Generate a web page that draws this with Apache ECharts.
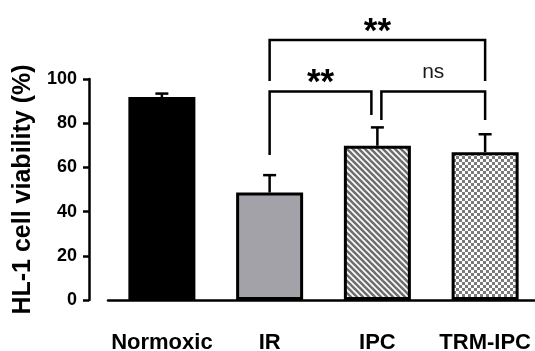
<!DOCTYPE html>
<html>
<head>
<meta charset="utf-8">
<script src="https://cdn.jsdelivr.net/npm/echarts@6/dist/echarts.min.js"></script>
<style>
  html, body { margin: 0; padding: 0; background: #fff; }
  #chart { width: 535px; height: 351px; }
</style>
</head>
<body>
<div id="chart"></div>
<script>
// groups and values (% viability, mean and SEM)
var groups = ['Normoxic', 'IR', 'IPC', 'TRM-IPC'];
var means = [91.8, 48.6, 69.8, 66.9];
var errors = [1.6, 7.9, 8.3, 8.1];
var yTicks = [0, 20, 40, 60, 80, 100];

// significance brackets (category index, heights in % units)
var bracketFrom = [1, 1, 2];
var bracketTo = [3, 2, 3];
var bracketTop = [117.6, 94.3, 94.3];
var bracketLeftEnd = [99.1, 65.6, 81.4];
var bracketRightEnd = [99.1, 83.7, 81.4];
var bracketText = ['**', '**', 'ns'];

var FONT = '"Liberation Sans", Arial, Helvetica, sans-serif';

function stripePattern() {
  var c = document.createElement('canvas');
  c.width = 6; c.height = 6;
  var ctx = c.getContext('2d');
  ctx.fillStyle = '#fff';
  ctx.fillRect(0, 0, 6, 6);
  ctx.strokeStyle = '#6e6e6e';
  ctx.lineWidth = 2.6;
  for (var k = -1; k <= 1; k++) {
    ctx.beginPath();
    ctx.moveTo(-2, -2 + k * 6);
    ctx.lineTo(8, 8 + k * 6);
    ctx.stroke();
  }
  return c;
}

function checkPattern() {
  var c = document.createElement('canvas');
  c.width = 6; c.height = 6;
  var ctx = c.getContext('2d');
  ctx.fillStyle = '#fff';
  ctx.fillRect(0, 0, 6, 6);
  ctx.fillStyle = '#7a7a7a';
  ctx.fillRect(0, 0, 3, 3);
  ctx.fillRect(3, 3, 3, 3);
  return c;
}

var fills = [
  '#000',
  '#a2a2a8',
  { image: stripePattern(), repeat: 'repeat' },
  { image: checkPattern(), repeat: 'repeat' }
];

var barData = means.map(function (v, i) {
  return { value: v, itemStyle: { color: fills[i] } };
});

var errData = means.map(function (v, i) { return [i, v, v + errors[i]]; });

var bracketData = bracketFrom.map(function (f, i) {
  return [f, bracketTo[i], bracketTop[i], bracketLeftEnd[i], bracketRightEnd[i], i];
});

var chart = echarts.init(document.getElementById('chart'));

var option = {
  animation: false,
  backgroundColor: '#fff',
  grid: { left: 108, right: -4, top: 79, bottom: 51, outerBoundsMode: 'none', containLabel: false },
  xAxis: {
    type: 'category',
    data: groups,
    offset: 19,
    axisLine: { lineStyle: { color: '#000', width: 2.5 } },
    axisTick: { show: false },
    axisLabel: {
      interval: 0,
      color: '#000',
      fontFamily: FONT,
      fontWeight: 'bold',
      fontSize: 22,
      margin: 13
    }
  },
  yAxis: {
    type: 'value',
    min: 0,
    max: 100,
    interval: 20,
    offset: 19,
    name: 'HL-1 cell viability (%)',
    nameLocation: 'middle',
    nameGap: 49,
    nameTextStyle: {
      color: '#000',
      fontFamily: FONT,
      fontWeight: 'bold',
      fontSize: 25
    },
    axisLine: { show: true, lineStyle: { color: '#000', width: 2.5 } },
    axisTick: { show: true, length: 6, lineStyle: { color: '#000', width: 2.5 } },
    splitLine: { show: false },
    axisLabel: {
      color: '#000',
      fontFamily: FONT,
      fontWeight: 'bold',
      fontSize: 18,
      margin: 12,
      formatter: function (v) { return yTicks.indexOf(v) >= 0 ? String(v) : ''; }
    }
  },
  series: [
    {
      type: 'bar',
      data: barData,
      barWidth: 67,
      itemStyle: { borderColor: '#000', borderWidth: 3 },
      z: 3
    },
    {
      type: 'custom',
      data: errData,
      z: 2,
      clip: false,
      renderItem: function (params, api) {
        var base = api.coord([api.value(0), api.value(1)]);
        var top = api.coord([api.value(0), api.value(2)]);
        var half = 6.5;
        var st = { stroke: '#000', lineWidth: 2.5 };
        return {
          type: 'group',
          children: [
            { type: 'line', shape: { x1: base[0], y1: base[1], x2: top[0], y2: top[1] }, style: st },
            { type: 'line', shape: { x1: top[0] - half, y1: top[1], x2: top[0] + half, y2: top[1] }, style: st }
          ]
        };
      }
    },
    {
      type: 'custom',
      data: bracketData,
      z: 4,
      clip: false,
      renderItem: function (params, api) {
        var i = api.value(5);
        var from = api.value(0), to = api.value(1);
        var pTop1 = api.coord([from, api.value(2)]);
        var pTop2 = api.coord([to, api.value(2)]);
        var pL = api.coord([from, api.value(3)]);
        var pR = api.coord([to, api.value(4)]);
        var x1 = pTop1[0], x2 = pTop2[0];
        // split brackets meeting at the shared IPC bar
        if (i === 1) x2 -= 6;
        if (i === 2) x1 += 4;
        var y = pTop1[1];
        var st = { stroke: '#000', lineWidth: 2.5, fill: null };
        var label = bracketText[i];
        var isStar = label === '**';
        return {
          type: 'group',
          children: [
            {
              type: 'polyline',
              shape: { points: [[x1, pL[1]], [x1, y], [x2, y], [x2, pR[1]]] },
              style: st
            },
            {
              type: 'text',
              style: {
                x: (x1 + x2) / 2,
                y: isStar ? y - 8 : y - 19,
                text: label,
                fill: isStar ? '#000' : '#1a1a1a',
                fontFamily: FONT,
                fontWeight: isStar ? 'bold' : 'normal',
                fontSize: isStar ? 35 : 21,
                align: 'center',
                verticalAlign: 'middle'
              }
            }
          ]
        };
      }
    }
  ]
};

chart.setOption(option);
</script>
</body>
</html>
